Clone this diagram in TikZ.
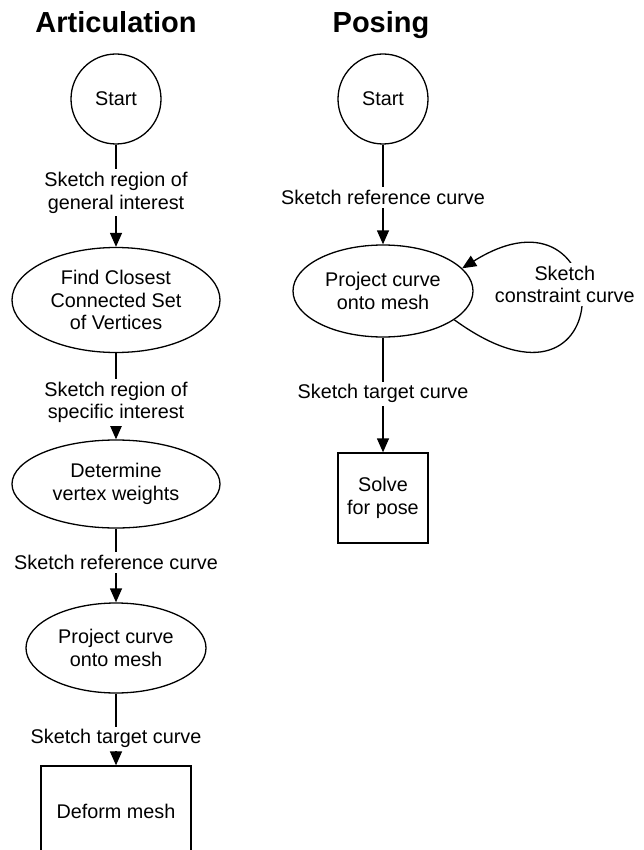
\documentclass[tikz,border=0pt]{standalone}
\usepackage{fontspec}
\setmainfont{Liberation Sans}
\usepackage{tikz}
\usetikzlibrary{positioning,arrows.meta,shapes.geometric}

\begin{document}
\begin{tikzpicture}[
    x=1pt, y=1pt,
    txt/.style={font=\fontsize{19.8}{22.5}\selectfont, align=center},
    startnode/.style={txt, draw, circle, line width=1.3pt, minimum size=90pt, inner sep=0pt},
    stepoval/.style={txt, draw, ellipse, line width=1.3pt, inner sep=0pt, minimum width=#1},
    stepoval/.default={208pt},
    stepbox/.style={txt, draw, rectangle, line width=1.3pt, inner sep=0pt, minimum height=90pt, minimum width=#1},
    stepbox/.default={90pt},
    arr/.style={-{Triangle[length=14pt,width=12pt]}, line width=1.3pt},
    lbl/.style={txt, fill=white, inner sep=3pt},
    coltitle/.style={font=\fontsize{29}{34}\selectfont\bfseries, anchor=base},
]
\clip (0,0) rectangle (644,-850);

\node[coltitle] (artTitle) at (116,-33) {Articulation};
\node[coltitle] (posTitle) at (381,-33) {Posing};

% ===== ARTICULATION =====
\node[startnode] (artStart) at (116,-99) {Start};
\node[stepoval, minimum height=105pt] (artFind) at (116,-300) {Find Closest\\Connected Set\\of Vertices};
\node[stepoval, minimum height=88pt] (artWeights) at (116,-484) {Determine\\vertex weights};
\node[stepoval=180pt, minimum height=90pt] (artProject) at (116,-648) {Project curve\\onto mesh};
\node[stepbox=150pt] (artDeform) at (116,-811) {Deform mesh};

% ===== POSING =====
\node[startnode] (posStart) at (383,-99) {Start};
\node[stepoval=180pt, minimum height=92pt] (posProject) at (383,-291) {Project curve\\onto mesh};
\node[stepbox] (posSolve) at (383,-498) {Solve\\for pose};

% ===== ARROWS =====
\draw[arr] (artStart) -- (artFind) node[lbl, pos=0.47] {Sketch region of\\general interest};
\draw[arr] (artFind) -- (artWeights) node[lbl, pos=0.57] {Sketch region of\\specific interest};
\draw[arr] (artWeights) -- (artProject) node[lbl, pos=0.46] {Sketch reference curve};
\draw[arr] (artProject) -- (artDeform) node[lbl, pos=0.63] {Sketch target curve};

\draw[arr] (posStart) -- (posProject) node[lbl, pos=0.53] {Sketch reference curve};
\draw[arr] (posProject) -- (posSolve) node[lbl, pos=0.49] {Sketch target curve};
\draw[arr] (posProject.-22) .. controls +(-36:210pt) and +(32:185pt) .. (posProject.16)
    node[lbl, pos=0.5, xshift=-16pt, yshift=19pt] {Sketch\\constraint curve};

\end{tikzpicture}
\end{document}
